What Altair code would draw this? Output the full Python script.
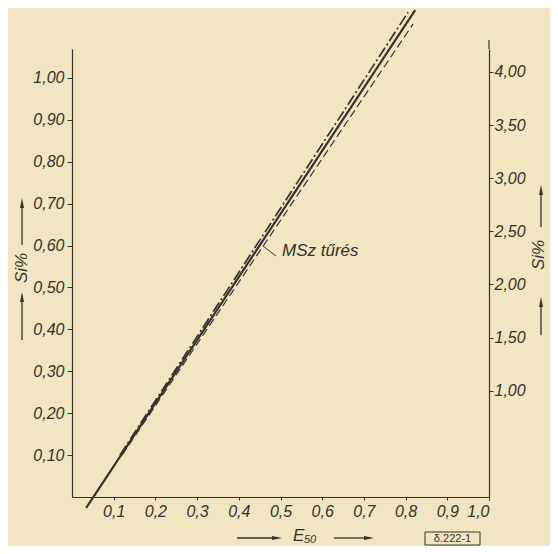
import altair as alt
import pandas as pd

# ---- data ----
solid_E = [0.034, 0.823]
solid_Si = [-0.026, 1.162]
upper_E = [0.115, 0.806]          # dash-dot tolerance line
upper_Si = [0.100, 1.157]
lower_E = [0.120, 0.818]          # dashed tolerance line
lower_Si = [0.100, 1.129]

x_ticks = [0.1, 0.2, 0.3, 0.4, 0.5, 0.6, 0.7, 0.8, 0.9, 1.0]
left_ticks = [0.1, 0.2, 0.3, 0.4, 0.5, 0.6, 0.7, 0.8, 0.9, 1.0]
right_ticks = [1.0, 1.5, 2.0, 2.5, 3.0, 3.5, 4.0]

annot_label = "MSz tűrés"
fig_code = "δ.222-1"

# ---- styling ----
INK = "#35332b"
BG = "#f1e5c2"
FONT = "Liberation Sans"
W, H = 417, 448

rows = []
for s, es, ss in [("solid", solid_E, solid_Si), ("upper", upper_E, upper_Si), ("lower", lower_E, lower_Si)]:
    for e, v in zip(es, ss):
        rows.append({"series": s, "E": e, "Si": v})
df = pd.DataFrame(rows)

lines = alt.Chart(df).mark_line(clip=False, color=INK).encode(
    x=alt.X("E:Q", scale=alt.Scale(domain=[0, 1.0], nice=False, zero=False),
            axis=alt.Axis(values=x_ticks, labelExpr="replace(format(datum.value, '.1f'), '.', ',')",
                          title=None, grid=False, tickSize=3, labelPadding=3,
                          labelFont=FONT, labelFontSize=16, labelFontStyle="italic",
                          labelColor=INK, tickColor=INK, domainColor=INK, domainWidth=1.2)),
    y=alt.Y("Si:Q", scale=alt.Scale(domain=[0, 1.0692], nice=False, zero=False),
            axis=alt.Axis(orient="left", values=left_ticks,
                          labelExpr="replace(format(datum.value, '.2f'), '.', ',')",
                          title=None, grid=False, tickSize=5, labelPadding=3,
                          labelFont=FONT, labelFontSize=16, labelFontStyle="italic",
                          labelColor=INK, tickColor=INK, domainColor=INK, domainWidth=1.2)),
    strokeDash=alt.StrokeDash("series:N", scale=alt.Scale(domain=["solid", "upper", "lower"],
                                                           range=[[1, 0], [11, 3, 2, 3], [8, 4]]), legend=None),
    strokeWidth=alt.StrokeWidth("series:N", scale=alt.Scale(domain=["solid", "upper", "lower"],
                                                             range=[2.2, 1.2, 1.2]), legend=None),
)

right = alt.Chart(pd.DataFrame({"v": [0, 4.216]})).mark_point(opacity=0).encode(
    y=alt.Y("v:Q", scale=alt.Scale(domain=[0, 4.216], nice=False, zero=False),
            axis=alt.Axis(orient="right", values=right_ticks,
                          labelExpr="replace(format(datum.value, '.2f'), '.', ',')",
                          title=None, grid=False, tickSize=4, labelPadding=1,
                          labelFont=FONT, labelFontSize=16, labelFontStyle="italic",
                          labelColor=INK, tickColor=INK, domainColor=INK, domainWidth=1.2)),
)

one = alt.Data(values=[{}])


def text(t, x, y, size, angle=0, align="center", baseline="middle", style="italic"):
    return alt.Chart(one).mark_text(text=t, font=FONT, fontSize=size, fontStyle=style, angle=angle,
                                    align=align, baseline=baseline, color=INK).encode(
        x=alt.value(x), y=alt.value(y))


def rule(x1, y1, x2, y2, w=1.3):
    return alt.Chart(one).mark_rule(color=INK, strokeWidth=w, clip=False).encode(
        x=alt.value(x1), y=alt.value(y1), x2=alt.value(x2), y2=alt.value(y2))


UP = "M-0.4,1 L0,-1 L0.4,1 Z"
RIGHT = "M-1,-0.4 L1,0 L-1,0.4 Z"


def head(shape, x, y):
    return alt.Chart(one).mark_point(shape=shape, filled=True, size=100, color=INK, opacity=1,
                                     strokeWidth=0).encode(x=alt.value(x), y=alt.value(y))


layers = [
    lines, right,
    # right axis line extension above plot
    rule(W, -9, W, 0, 1.2),
    # left axis title with arrows
    rule(-50, 291, -50, 250), head(UP, -50, 248),
    text("Si%", -50, 219, 17, angle=270),
    rule(-50, 196, -50, 158), head(UP, -50, 154),
    # right axis title with arrows
    rule(469, 286, 469, 255), head(UP, 469, 253),
    text("Si%", 467, 206, 17, angle=270),
    rule(469, 178, 469, 145), head(UP, 469, 141),
    # x axis title with arrows
    rule(165, 489, 201, 489), head(RIGHT, 205, 489),
    text("E", 221, 492, 17, align="left", baseline="alphabetic"),
    text("50", 232, 494, 11, align="left", baseline="alphabetic"),
    rule(262, 489, 293, 489), head(RIGHT, 297, 489),
    # annotation
    rule(191, 197, 204, 207, 1.0),
    text(annot_label, 210, 202, 17, align="left"),
    # figure code box
    alt.Chart(one).mark_rect(fillOpacity=0, stroke=INK, strokeWidth=1).encode(
        x=alt.value(353), x2=alt.value(408), y=alt.value(483), y2=alt.value(496)),
    text(fig_code, 380.5, 490, 11, style="normal"),
]

chart = alt.layer(*layers).resolve_scale(y="independent").properties(
    width=W, height=H,
    autosize=alt.AutoSizeParams(type="none"),
    padding={"left": 64, "top": 41, "right": 61, "bottom": 49},
    background=BG,
).configure_view(strokeOpacity=0)

chart.save("out.html", embed_options={"renderer": "svg", "actions": False})
